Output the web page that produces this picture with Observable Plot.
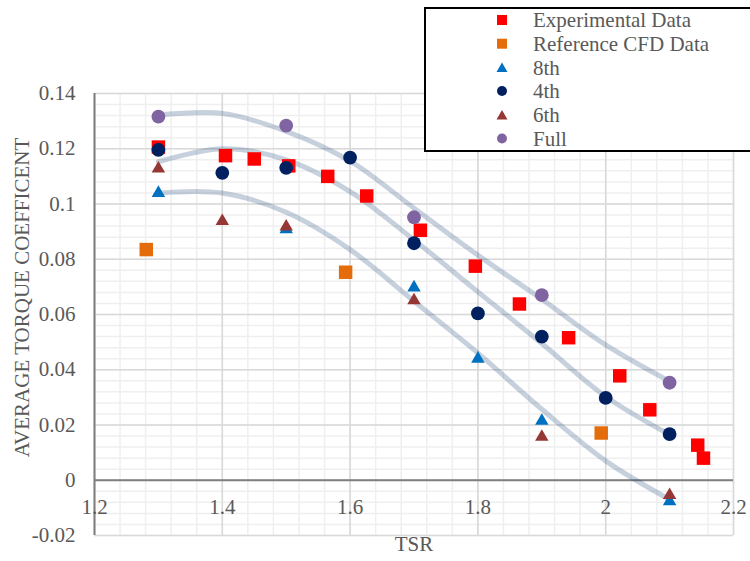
<!DOCTYPE html>
<html>
<head>
<meta charset="utf-8">
<script src="https://cdn.jsdelivr.net/npm/d3@7"></script>
<script src="https://cdn.jsdelivr.net/npm/@observablehq/plot@0.6"></script>
<style>
  html, body { margin: 0; padding: 0; background: #fff; }
  #wrap { position: relative; width: 750px; height: 561px; overflow: hidden; font-family: "Liberation Serif", "Times New Roman", serif; }
  #legend { position: absolute; left: 0; top: 0; pointer-events: none; }
</style>
</head>
<body>
<div id="wrap"></div>
<script>
// ---------- data ----------
const seriesNames   = ["Experimental Data", "Reference CFD Data", "8th", "4th", "6th", "Full"];
const seriesColors  = ["#FF0000", "#E46C0A", "#0070C0", "#002060", "#953735", "#8064A2"];
const seriesSymbols = ["square", "square", "triangle", "circle", "triangle", "circle"];

const expTSR = [1.300, 1.405, 1.450, 1.504, 1.565, 1.626, 1.710, 1.796, 1.865, 1.942, 2.022, 2.069, 2.144, 2.153];
const expCt  = [0.1206, 0.1175, 0.1163, 0.1138, 0.1100, 0.1029, 0.0905, 0.0775, 0.0638, 0.0516, 0.0378, 0.0255, 0.0127, 0.0080];

const cfdTSR = [1.281, 1.593, 1.993];
const cfdCt  = [0.0835, 0.0753, 0.0171];

const tsr8th = [1.3, 1.5, 1.7, 1.8, 1.9, 2.1];
const ct8th  = [0.1047, 0.0915, 0.0705, 0.0447, 0.0222, -0.0069];

const tsr4th = [1.3, 1.4, 1.5, 1.6, 1.7, 1.8, 1.9, 2.0, 2.1];
const ct4th  = [0.1196, 0.1113, 0.1131, 0.1168, 0.0858, 0.0604, 0.0520, 0.0298, 0.0167];

const tsr6th = [1.3, 1.4, 1.5, 1.7, 1.9, 2.1];
const ct6th  = [0.1135, 0.0945, 0.0925, 0.0658, 0.0164, -0.0047];

const tsrFull = [1.3, 1.5, 1.7, 1.9, 2.1];
const ctFull  = [0.1316, 0.1284, 0.0952, 0.0670, 0.0353];

// trend curves (polynomial trendlines as drawn in the reference)
const trendTSR    = [1.3, 1.4, 1.5, 1.6, 1.7, 1.8, 1.9, 2.0, 2.1];
const trendFull   = [0.1322, 0.1328, 0.1263, 0.1155, 0.0985, 0.0815, 0.0655, 0.0490, 0.0358];
const trend4th    = [0.1153, 0.1200, 0.1160, 0.1045, 0.0870, 0.0682, 0.0495, 0.0303, 0.0165];
const trend8th    = [0.1040, 0.1040, 0.0970, 0.0835, 0.0648, 0.0460, 0.0257, 0.0070, -0.0070];

// axis ticks
const xTicks = [1.2, 1.4, 1.6, 1.8, 2.0, 2.2];
const xTickLabels = ["1.2", "1.4", "1.6", "1.8", "2", "2.2"];
const yTicks = [-0.02, 0, 0.02, 0.04, 0.06, 0.08, 0.1, 0.12, 0.14];
const yTickLabels = ["-0.02", "0", "0.02", "0.04", "0.06", "0.08", "0.1", "0.12", "0.14"];
const xTitle = "TSR";
const yTitle = "AVERAGE TORQUE COEFFICENT";

// ---------- build tables ----------
const zip = (xs, ys) => xs.map((x, i) => ({x, y: ys[i]}));
const seriesData = [
  zip(expTSR, expCt), zip(cfdTSR, cfdCt), zip(tsr8th, ct8th),
  zip(tsr4th, ct4th), zip(tsr6th, ct6th), zip(tsrFull, ctFull)
];
const trends = [trendFull, trend4th, trend8th].map(v => zip(trendTSR, v));
const xMinor = d3.range(0, 26).map(i => 1.2 + i * 0.04);
const yMinor = d3.range(0, 41).map(i => -0.02 + i * 0.004);
const xTickRows = xTicks.map((v, i) => ({v, t: xTickLabels[i]}));
const yTickRows = yTicks.map((v, i) => ({v, t: yTickLabels[i]}));

const textColor = "#595959";
const font = "Liberation Serif, Times New Roman, serif";
// marker radius per symbol (d3 symbol area = pi r^2)
const rFor = s => s === "square" ? 7.6 : s === "circle" ? 6.9 : 5.0;

const chart = Plot.plot({
  width: 750,
  height: 561,
  marginLeft: 94,
  marginRight: 17,
  marginTop: 93,
  marginBottom: 26,
  x: {domain: [1.2, 2.2], axis: null},
  y: {domain: [-0.02, 0.14], axis: null},
  style: {fontFamily: font, background: "#fff", overflow: "visible"},
  marks: [
    Plot.ruleX(xMinor, {stroke: "#EFEFEF", strokeWidth: 1.5}),
    Plot.ruleY(yMinor, {stroke: "#EFEFEF", strokeWidth: 1.5}),
    Plot.ruleX(xTicks, {stroke: "#D9D9D9", strokeWidth: 1.6}),
    Plot.ruleY(yTicks, {stroke: "#D9D9D9", strokeWidth: 1.6}),
    Plot.ruleX([1.2], {stroke: "#7F7F7F", strokeWidth: 2}),
    Plot.ruleY([0], {stroke: "#7F7F7F", strokeWidth: 2}),
    ...trends.map(t => Plot.line(t, {x: "x", y: "y", curve: "catmull-rom", stroke: "#1F497D", strokeOpacity: 0.25, strokeWidth: 5, strokeLinecap: "round"})),
    ...seriesData.map((d, i) => Plot.dot(d, {
      x: "x", y: "y",
      symbol: seriesSymbols[i],
      r: rFor(seriesSymbols[i]),
      fill: seriesColors[i],
      stroke: "none",
      dy: seriesSymbols[i] === "triangle" ? 2 : 0
    })),
    Plot.text(yTickRows, {x: 1.2, y: "v", text: "t", textAnchor: "end", dx: -19, fontSize: 21, fill: textColor}),
    Plot.text(xTickRows, {x: "v", y: 0, text: "t", dy: 27, fontSize: 21, fill: textColor}),
    Plot.text([xTitle], {frameAnchor: "bottom", text: d => d, dy: 15, fontSize: 21, fill: textColor}),
    Plot.text([yTitle], {frameAnchor: "left", text: d => d, textAnchor: "middle", rotate: -90, dx: -72, dy: -17, fontSize: 21, fill: textColor})
  ]
});

const wrap = document.getElementById("wrap");
wrap.appendChild(chart);

// ---------- legend (box over the upper right of the chart) ----------
const leg = d3.select(wrap).append("svg")
  .attr("id", "legend")
  .attr("width", 750).attr("height", 561);
leg.append("rect")
  .attr("x", 425).attr("y", 8).attr("width", 340).attr("height", 143)
  .attr("fill", "#fff").attr("stroke", "#000").attr("stroke-width", 2);
const rowY = i => 20 + i * 23.7;
seriesNames.forEach((name, i) => {
  const s = seriesSymbols[i];
  const sym = s === "square" ? d3.symbolSquare : s === "circle" ? d3.symbolCircle : d3.symbolTriangle;
  const size = s === "square" ? 100 : s === "circle" ? 78 : 52;
  leg.append("path")
    .attr("d", d3.symbol(sym, size)())
    .attr("transform", `translate(502,${rowY(i) + (s === "triangle" ? 1.5 : 0)})`)
    .attr("fill", seriesColors[i]);
  leg.append("text")
    .attr("x", 533).attr("y", rowY(i))
    .attr("dy", "0.35em")
    .attr("font-family", font)
    .attr("font-size", 21)
    .attr("fill", textColor)
    .text(name);
});
</script>
</body>
</html>
